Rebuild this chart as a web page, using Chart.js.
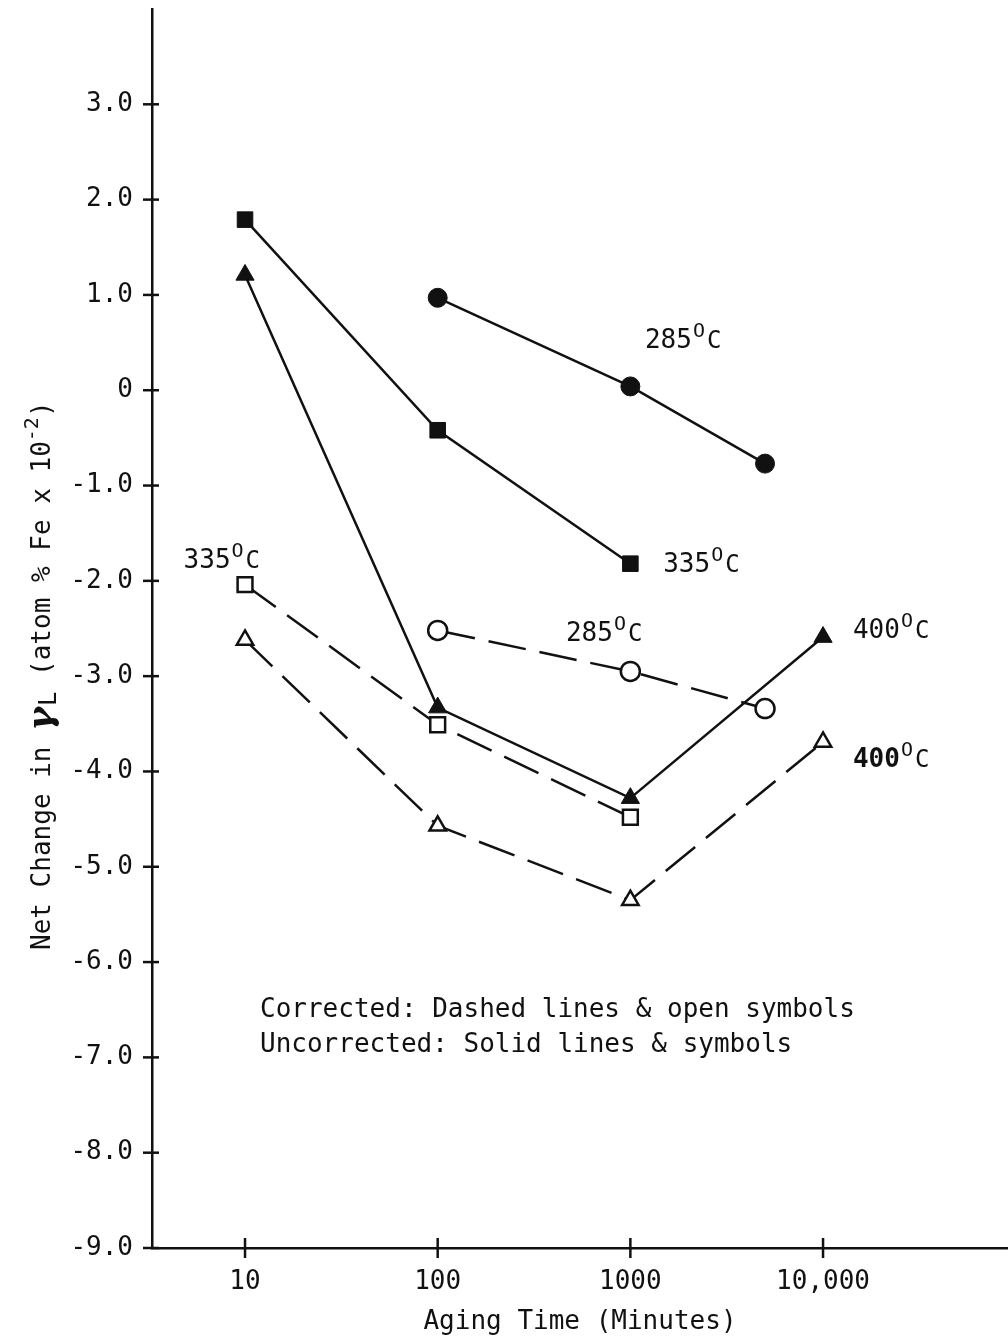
<!DOCTYPE html>
<html>
<head>
<meta charset="utf-8">
<script src="https://cdn.jsdelivr.net/npm/chart.js@4.4.0/dist/chart.umd.min.js"></script>
<style>
  html, body { margin: 0; padding: 0; background: #fff; }
</style>
</head>
<body>
<canvas id="myChart" width="1008" height="1341"></canvas>
<script>
// axis ticks
const xTicks = [10, 100, 1000, 10000];
const xTickLabels = ['10', '100', '1000', '10,000'];
const yTicks = [3, 2, 1, 0, -1, -2, -3, -4, -5, -6, -7, -8, -9];
const yTickLabels = ['3.0', '2.0', '1.0', '0', '-1.0', '-2.0', '-3.0', '-4.0', '-5.0', '-6.0', '-7.0', '-8.0', '-9.0'];

// uncorrected (solid lines & symbols)
const time285 = [100, 1000, 5000];
const solid285 = [0.97, 0.04, -0.77];
const time335 = [10, 100, 1000];
const solid335 = [1.79, -0.42, -1.82];
const time400 = [10, 100, 1000, 10000];
const solid400 = [1.21, -3.33, -4.28, -2.59];

// corrected (dashed lines & open symbols)
const open335 = [-2.04, -3.51, -4.48];
const open285 = [-2.52, -2.95, -3.34];
const open400 = [-2.62, -4.57, -5.35, -3.69];

// temperature labels and where they sit (time, value)
const tempLabels = ['285', '335', '335', '285', '400', '400'];
const tempAnchorTime = [1190, 1480, 4.8, 463, 14300, 14300];
const tempAnchorValue = [0.44, -1.91, -1.86, -2.63, -2.6, -3.95];

const noteLines = ['Corrected: Dashed lines & open symbols', 'Uncorrected: Solid lines & symbols'];

const ink = '#111';
const mono = "'DejaVu Sans Mono', monospace";

function toPoints(xs, ys) {
    return xs.map((x, i) => ({ x: x, y: ys[i] }));
}

function series(label, xs, ys, style, filled, radius) {
    return {
        label: label,
        data: toPoints(xs, ys),
        showLine: true,
        borderColor: ink,
        borderWidth: 2.5,
        borderDash: filled ? [] : [38, 14],
        pointStyle: style,
        pointRadius: radius,
        pointBackgroundColor: filled ? ink : '#fff',
        pointBorderColor: ink,
        pointBorderWidth: filled ? 1 : 2.5,
        tension: 0
    };
}

function drawTemp(ctx, x, y, digits, bold) {
    ctx.font = (bold ? 'bold ' : '') + '26px ' + mono;
    ctx.textAlign = 'left';
    ctx.textBaseline = 'alphabetic';
    ctx.fillText(digits, x, y);
    let w = ctx.measureText(digits).width;
    ctx.font = '20px ' + mono;
    ctx.fillText('O', x + w + 1, y - 11);
    let w2 = ctx.measureText('O').width;
    ctx.font = '24px ' + mono;
    ctx.fillText('C', x + w + w2 + 3, y);
}

const decorPlugin = {
    id: 'decor',
    afterDraw(chart) {
        const ctx = chart.ctx;
        const xs = chart.scales.x;
        const ys = chart.scales.y;
        const area = chart.chartArea;
        ctx.save();
        ctx.strokeStyle = ink;
        ctx.fillStyle = ink;
        ctx.lineWidth = 2.5;

        // tick marks crossing the axes
        xTicks.forEach(v => {
            const px = xs.getPixelForValue(v);
            ctx.beginPath();
            ctx.moveTo(px, area.bottom - 10);
            ctx.lineTo(px, area.bottom + 10);
            ctx.stroke();
        });
        yTicks.forEach(v => {
            const py = ys.getPixelForValue(v);
            ctx.beginPath();
            ctx.moveTo(area.left - 9, py);
            ctx.lineTo(area.left + 7, py);
            ctx.stroke();
        });

        // temperature labels
        tempLabels.forEach((t, i) => {
            drawTemp(ctx, xs.getPixelForValue(tempAnchorTime[i]), ys.getPixelForValue(tempAnchorValue[i]), t, i === 5);
        });

        // notes
        ctx.font = '26px ' + mono;
        ctx.textAlign = 'left';
        ctx.textBaseline = 'alphabetic';
        ctx.fillText(noteLines[0], 260, 1017);
        ctx.fillText(noteLines[1], 260, 1052);

        // y axis title with gamma, subscript L and superscript -2
        ctx.translate(50, 950);
        ctx.rotate(-Math.PI / 2);
        let cx = 0;
        ctx.font = '26px ' + mono;
        const part1 = 'Net Change in ';
        ctx.fillText(part1, cx, 0);
        cx += ctx.measureText(part1).width;
        ctx.font = 'italic bold 36px DejaVu Serif';
        ctx.fillText('\u03b3', cx, 2);
        cx += ctx.measureText('\u03b3').width + 1;
        ctx.font = '24px ' + mono;
        ctx.fillText('L', cx, 6);
        cx += ctx.measureText('L').width;
        ctx.font = '26px ' + mono;
        const part2 = ' (atom % Fe x 10';
        ctx.fillText(part2, cx, 0);
        cx += ctx.measureText(part2).width;
        ctx.font = '20px ' + mono;
        ctx.fillText('-2', cx, -12);
        cx += ctx.measureText('-2').width;
        ctx.font = '26px ' + mono;
        ctx.fillText(')', cx, 0);
        ctx.restore();
    }
};

const ctx = document.getElementById('myChart').getContext('2d');
new Chart(ctx, {
    type: 'scatter',
    data: {
        datasets: [
            series('285 C uncorrected', time285, solid285, 'circle', true, 9.5),
            series('335 C uncorrected', time335, solid335, 'rect', true, 11),
            series('400 C uncorrected', time400, solid400, 'triangle', true, 10.5),
            series('335 C corrected', time335, open335, 'rect', false, 10.5),
            series('285 C corrected', time285, open285, 'circle', false, 9.5),
            series('400 C corrected', time400, open400, 'triangle', false, 9.5)
        ]
    },
    options: {
        responsive: false,
        animation: false,
        devicePixelRatio: 1,
        layout: { autoPadding: false, padding: { top: 9, left: 0, right: 0, bottom: 0 } },
        plugins: {
            legend: { display: false },
            tooltip: { enabled: false }
        },
        scales: {
            x: {
                type: 'logarithmic',
                min: 3.29,
                max: 91200,
                afterBuildTicks: s => { s.ticks = xTicks.map(v => ({ value: v })); },
                afterFit: s => { s.height = 93; s.paddingLeft = 0; s.paddingRight = 0; },
                grid: { display: false, drawTicks: false },
                border: { display: true, color: ink, width: 2.5 },
                ticks: {
                    autoSkip: false,
                    maxRotation: 0,
                    padding: 19,
                    color: ink,
                    font: { family: mono, size: 26 },
                    callback: (v, i) => xTickLabels[i]
                },
                title: {
                    display: true,
                    text: 'Aging Time (Minutes)',
                    color: ink,
                    font: { family: mono, size: 26 },
                    padding: { top: 0, bottom: 3 }
                }
            },
            y: {
                type: 'linear',
                min: -9,
                max: 4,
                afterBuildTicks: s => { s.ticks = yTicks.map(v => ({ value: v })); },
                afterFit: s => { s.width = 152; s.paddingTop = 0; s.paddingBottom = 0; },
                grid: { display: false, drawTicks: false },
                border: { display: true, color: ink, width: 2.5 },
                ticks: {
                    autoSkip: false,
                    padding: 19,
                    color: ink,
                    font: { family: mono, size: 26 },
                    callback: (v, i) => yTickLabels[i]
                }
            }
        }
    },
    plugins: [decorPlugin]
});
</script>
</body>
</html>
